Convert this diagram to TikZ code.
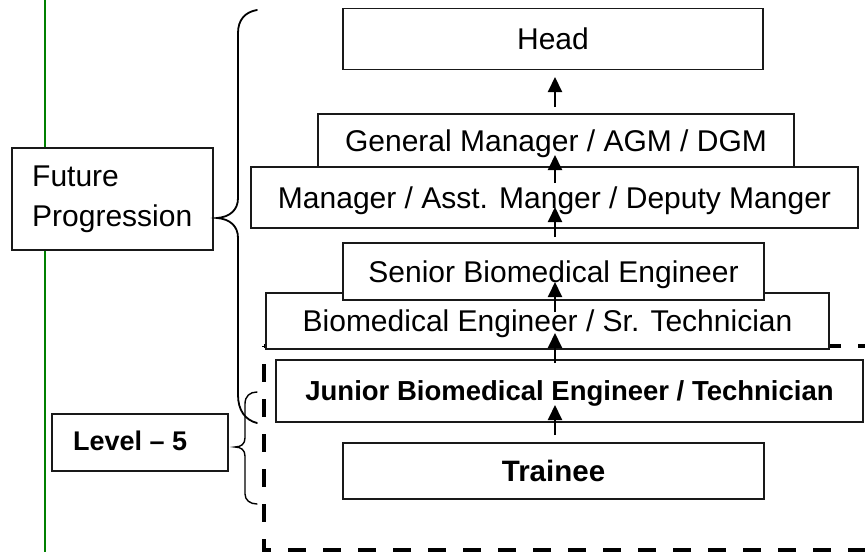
\documentclass[tikz,border=0pt]{standalone}
\usepackage{fontspec}
\setmainfont{Liberation Sans}
\usetikzlibrary{arrows.meta}
\definecolor{vgreen}{RGB}{0,128,0}
\begin{document}
\begin{tikzpicture}[x=1pt,y=-1pt,
  box/.style={draw=black!90, line width=1.8pt, fill=white, inner sep=0pt, align=center},
  reg/.style={font=\fontsize{30}{36}\selectfont, text height=21.5pt, text depth=0pt},
  bld/.style={font=\fontsize{27.5}{33}\bfseries\selectfont, text height=19.7pt, text depth=0pt},
  txt/.style={inner sep=0pt, anchor=base west},
  up/.style={line width=2pt, -{Triangle[length=15pt,width=14pt]}},
  brc/.style={line width=1.8pt, line cap=round},
  dsh/.style={line width=4.5pt, dash pattern=on 18pt off 17pt}]
\useasboundingbox (0,0) rectangle (865,552);
\clip (0,0) rectangle (865,552);
\fill[white] (0,0) rectangle (865,552);

% green margin line
\draw[vgreen, line width=2pt] (45,0) -- (45,552);

% left labels
\node[box, minimum width=201pt, minimum height=102pt] (fut) at (112.5,199) {};
\node[txt, font=\fontsize{30}{36}\selectfont] (futa) at (32,186) {Future};
\node[txt, font=\fontsize{30}{36}\selectfont] (futb) at (32,226) {Progression};

\node[box, minimum width=176pt, minimum height=57pt] (lvl) at (140,442.5) {};
\node[txt, font=\fontsize{27}{32}\bfseries\selectfont] (lvltxt) at (73,450) {Level -- 5};

% braces
\draw[brc] (257,10) .. controls (245,12) and (238,20) .. (238,33) -- (238,198)
  .. controls (238,210) and (230,217) .. (217,218)
  .. controls (230,219) and (238,226) .. (238,238) -- (238,395)
  .. controls (238,410) and (245,420) .. (257,423);
\draw[brc, line width=1.4pt] (257,392) .. controls (250,392) and (245,396) .. (245,404) -- (245,438)
  .. controls (245,444) and (241,447) .. (235,447)
  .. controls (241,447) and (245,450) .. (245,456) -- (245,494)
  .. controls (245,500) and (250,504) .. (257,504);

% dashed level-5 frame
\draw[dsh] (876,346) -- (264,346);
\draw[dsh, dash phase=17pt] (264,346) -- (264,550) -- (885,550);

% career boxes
\node[box, reg, minimum width=476pt, minimum height=53pt] (gm) at (556,140.5) {General Manager / AGM / DGM};
\node[box, reg, minimum width=607pt, minimum height=61pt] (mgr) at (554.5,197.5) {Manager / Asst. Manger / Deputy Manger};
\node[box, reg, minimum width=563pt, minimum height=56pt] (bme) at (547.5,321) {Biomedical Engineer / Sr. Technician};
\node[box, reg, minimum width=421pt, minimum height=57pt] (sen) at (553.5,271.5) {Senior Biomedical Engineer};
\node[box, bld, minimum width=587pt, minimum height=62pt] (jun) at (569.5,391) {Junior Biomedical Engineer / Technician};
\node[box, font=\fontsize{29.5}{35}\bfseries\selectfont, text height=21pt, text depth=0pt,
      minimum width=421pt, minimum height=56pt] (tra) at (553.5,471) {Trainee};
\node[box, reg, minimum width=420pt, minimum height=61pt] (head) at (553,39) {Head};

% arrows
\coordinate (t1) at (555,107); \coordinate (h1) at (555,77);
\coordinate (t2) at (555,183); \coordinate (h2) at (555,155);
\coordinate (t3) at (555,237); \coordinate (h3) at (555,207);
\coordinate (t4) at (555,312); \coordinate (h4) at (555,282);
\coordinate (t5) at (555,363); \coordinate (h5) at (555,333);
\coordinate (t6) at (555,435); \coordinate (h6) at (555,405);
\foreach \i in {1,...,6} {\draw[up] (t\i) -- (h\i);}
\end{tikzpicture}
\end{document}
